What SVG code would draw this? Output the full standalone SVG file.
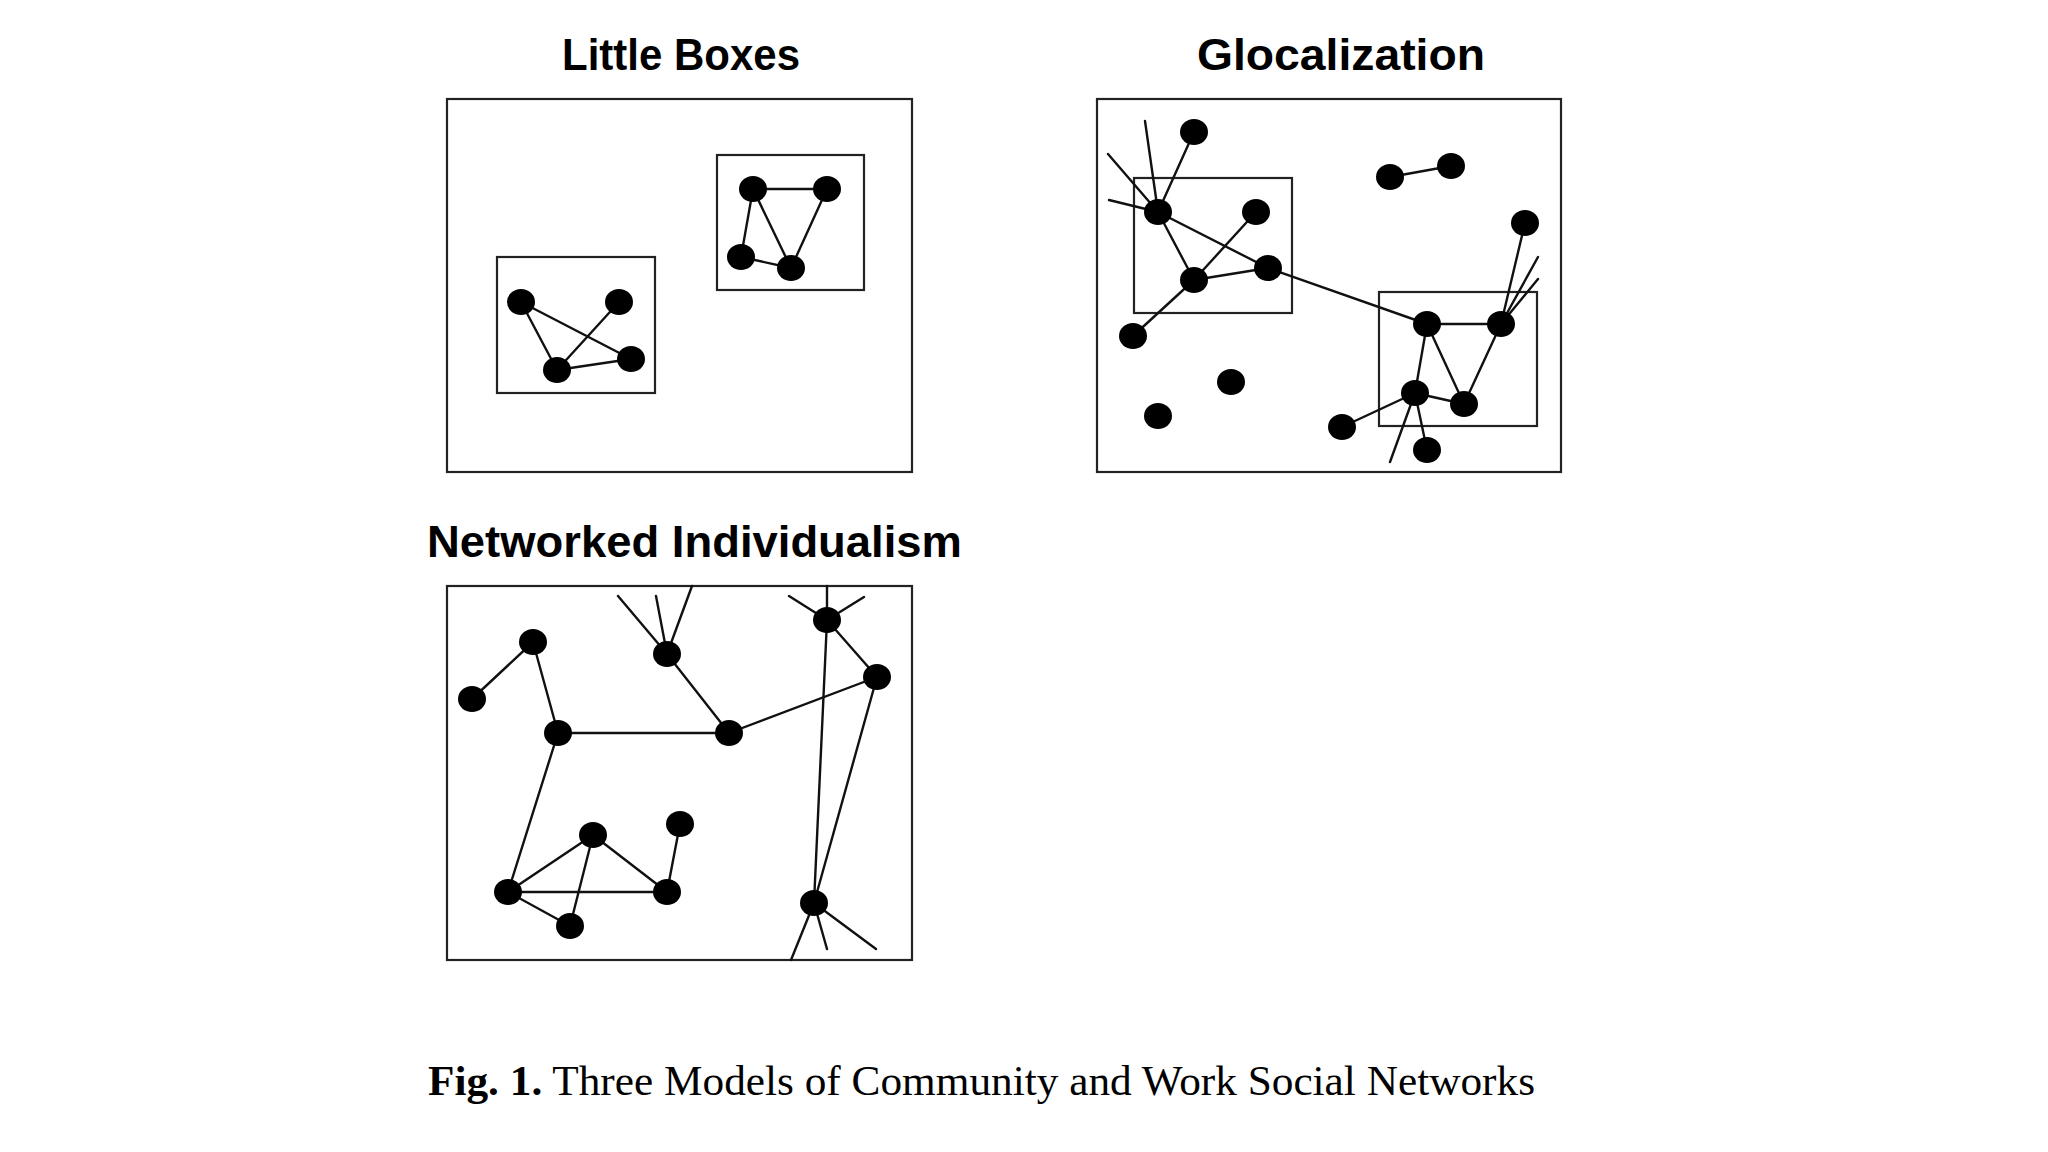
<svg xmlns="http://www.w3.org/2000/svg" width="2048" height="1152" viewBox="0 0 2048 1152">
<defs>
<style>
.title{font-family:"Liberation Sans",Arial,sans-serif;font-weight:bold;font-size:45px;fill:#000}
.frame{fill:none;stroke:#222;stroke-width:2.2}
.edge{stroke:#111;stroke-width:2.4;fill:none;stroke-linecap:round}
.node{fill:#000}
.cap{font-family:"Liberation Serif","Times New Roman",serif;font-size:42px;fill:#000}
</style>
</defs>
<rect width="2048" height="1152" fill="#fff"/>

<!-- Little Boxes -->
<g id="little-boxes">
<text class="title" x="681" y="70" text-anchor="middle" textLength="238" lengthAdjust="spacingAndGlyphs">Little Boxes</text>
<rect class="frame" x="447" y="99" width="465" height="373"/>
<rect class="frame" x="497" y="257" width="158" height="136"/>
<rect class="frame" x="717" y="155" width="147" height="135"/>
</g>
<g id="lb-connectors">
<path class="edge" d="M753 189L827 189M753 189L741 257M753 189L791 268M827 189L791 268M741 257L791 268"/>
<path class="edge" d="M521 302L557 370M521 302L631 359M619 302L557 370M557 370L631 359"/>
</g>
<g id="lb-nodes">
<ellipse class="node" cx="753" cy="189" rx="14" ry="13"/>
<ellipse class="node" cx="827" cy="189" rx="14" ry="13"/>
<ellipse class="node" cx="741" cy="257" rx="14" ry="13"/>
<ellipse class="node" cx="791" cy="268" rx="14" ry="13"/>
<ellipse class="node" cx="521" cy="302" rx="14" ry="13"/>
<ellipse class="node" cx="619" cy="302" rx="14" ry="13"/>
<ellipse class="node" cx="557" cy="370" rx="14" ry="13"/>
<ellipse class="node" cx="631" cy="359" rx="14" ry="13"/>
</g>

<!-- Glocalization -->
<g id="glocalization">
<text class="title" x="1341" y="70" text-anchor="middle" textLength="288" lengthAdjust="spacingAndGlyphs">Glocalization</text>
<rect class="frame" x="1097" y="99" width="464" height="373"/>
<rect class="frame" x="1134" y="178" width="158" height="135"/>
<rect class="frame" x="1379" y="292" width="158" height="134"/>
</g>
<g id="gl-connectors">
<path class="edge" d="M1158 212L1145 121M1158 212L1108 154M1158 212L1109 200M1158 212L1194 132M1158 212L1194 280M1158 212L1268 268M1194 280L1256 212M1194 280L1268 268M1194 280L1133 336M1268 268L1427 324"/>
<path class="edge" d="M1390 177L1451 166"/>
<path class="edge" d="M1427 324L1501 324M1427 324L1415 393M1427 324L1464 404M1501 324L1464 404M1501 324L1525 223M1501 324L1538 257M1501 324L1538 279M1415 393L1464 404M1415 393L1342 427M1415 393L1427 450M1415 393L1390 462"/>
</g>
<g id="gl-nodes">
<ellipse class="node" cx="1158" cy="212" rx="14" ry="13"/>
<ellipse class="node" cx="1194" cy="132" rx="14" ry="13"/>
<ellipse class="node" cx="1256" cy="212" rx="14" ry="13"/>
<ellipse class="node" cx="1194" cy="280" rx="14" ry="13"/>
<ellipse class="node" cx="1268" cy="268" rx="14" ry="13"/>
<ellipse class="node" cx="1133" cy="336" rx="14" ry="13"/>
<ellipse class="node" cx="1231" cy="382" rx="14" ry="13"/>
<ellipse class="node" cx="1158" cy="416" rx="14" ry="13"/>
<ellipse class="node" cx="1390" cy="177" rx="14" ry="13"/>
<ellipse class="node" cx="1451" cy="166" rx="14" ry="13"/>
<ellipse class="node" cx="1525" cy="223" rx="14" ry="13"/>
<ellipse class="node" cx="1427" cy="324" rx="14" ry="13"/>
<ellipse class="node" cx="1501" cy="324" rx="14" ry="13"/>
<ellipse class="node" cx="1415" cy="393" rx="14" ry="13"/>
<ellipse class="node" cx="1464" cy="404" rx="14" ry="13"/>
<ellipse class="node" cx="1342" cy="427" rx="14" ry="13"/>
<ellipse class="node" cx="1427" cy="450" rx="14" ry="13"/>
</g>

<!-- Networked Individualism -->
<g id="networked-individualism">
<text class="title" x="427" y="557" textLength="535" lengthAdjust="spacingAndGlyphs">Networked Individualism</text>
<rect class="frame" x="447" y="586" width="465" height="374"/>
</g>
<g id="ni-connectors">
<path class="edge" d="M533 642L472 699M533 642L558 733M558 733L729 733M558 733L508 892M667 654L729 733M729 733L877 677M667 654L618 596M667 654L656 596M667 654L692 586"/>
<path class="edge" d="M827 620L877 677M827 620L827 586M827 620L789 596M827 620L864 597M827 620L814 903M877 677L814 903M814 903L791 960M814 903L827 949M814 903L876 949"/>
<path class="edge" d="M593 835L508 892M593 835L667 892M593 835L570 926M680 824L667 892M508 892L667 892M508 892L570 926"/>
</g>
<g id="ni-nodes">
<ellipse class="node" cx="533" cy="642" rx="14" ry="13"/>
<ellipse class="node" cx="472" cy="699" rx="14" ry="13"/>
<ellipse class="node" cx="558" cy="733" rx="14" ry="13"/>
<ellipse class="node" cx="667" cy="654" rx="14" ry="13"/>
<ellipse class="node" cx="729" cy="733" rx="14" ry="13"/>
<ellipse class="node" cx="827" cy="620" rx="14" ry="13"/>
<ellipse class="node" cx="877" cy="677" rx="14" ry="13"/>
<ellipse class="node" cx="593" cy="835" rx="14" ry="13"/>
<ellipse class="node" cx="680" cy="824" rx="14" ry="13"/>
<ellipse class="node" cx="508" cy="892" rx="14" ry="13"/>
<ellipse class="node" cx="667" cy="892" rx="14" ry="13"/>
<ellipse class="node" cx="570" cy="926" rx="14" ry="13"/>
<ellipse class="node" cx="814" cy="903" rx="14" ry="13"/>
</g>

<g id="caption">
<text class="cap" x="428" y="1095" textLength="1107" lengthAdjust="spacingAndGlyphs"><tspan font-weight="bold">Fig. 1.</tspan> Three Models of Community and Work Social Networks</text>
</g>
</svg>
